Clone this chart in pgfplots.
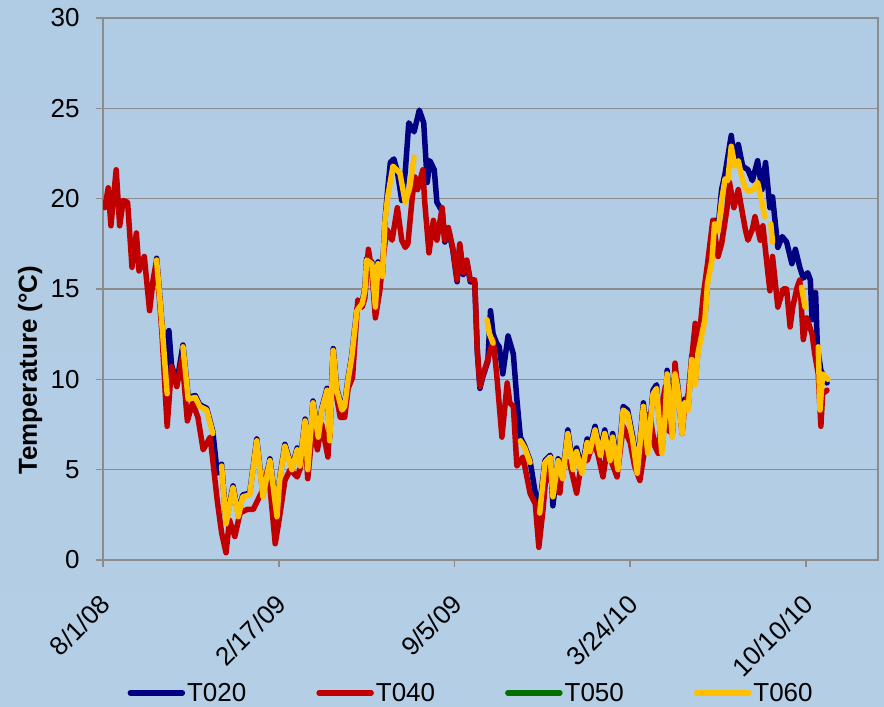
\documentclass[border=0pt]{standalone}
\usepackage{pgfplots}
\pgfplotsset{compat=1.18}
\usepackage{fontspec}
\setmainfont{Liberation Sans}
\definecolor{tA}{RGB}{0,0,128}
\definecolor{tB}{RGB}{192,0,0}
\definecolor{tC}{RGB}{0,112,0}
\definecolor{tD}{RGB}{255,192,0}
\definecolor{gridc}{RGB}{140,140,140}
\definecolor{bgtop}{RGB}{176,203,228}
\definecolor{bgmid}{RGB}{188,212,234}
\definecolor{bgbot}{RGB}{180,206,229}
\begin{document}
\begin{tikzpicture}
\shade[top color=bgtop, middle color=bgmid, bottom color=bgbot] (0pt,0pt) rectangle (884pt,707pt);
\begin{axis}[
  at={(103pt,147pt)}, anchor=south west,
  width=775pt, height=542pt, scale only axis,
  xmin=0, xmax=882, ymin=0, ymax=30,
  xtick={0,200,400,600,800},
  xticklabels={8/1/08,2/17/09,9/5/09,3/24/10,10/10/10},
  ytick={0,5,10,15,20,25,30},
  ymajorgrids, grid style={gridc, line width=1.6pt},
  axis line style={gridc, line width=1.6pt},
  tick style={gridc, line width=1.6pt},
  tick align=outside, major tick length=7pt,
  xtick pos=bottom, ytick pos=left,
  /pgf/number format/assume math mode=true,
  tick label style={font=\fontsize{26}{30}\selectfont},
  xticklabel style={rotate=45, anchor=east, xshift=-18pt, yshift=-25pt},
  yticklabel style={xshift=-13pt},
  ylabel={Temperature (°C)},
  every axis y label/.style={at={(axis description cs:-0.094,0.35)}, rotate=90, anchor=center,
    font=\fontsize{26}{30}\selectfont\bfseries},
  unbounded coords=jump,
  legend columns=4,
  legend style={at={(0.475,-0.245)}, anchor=center, draw=none, fill=none,
    font=\fontsize{26}{30}\selectfont,
    /tikz/every even column/.append style={column sep=68pt}},
  legend image code/.code={\draw[#1, line cap=round] (0pt,0pt) -- (52pt,0pt);},
  every axis plot/.append style={line width=5.5pt, line join=round, line cap=round},
]
% T020
\addplot[tA] coordinates {
(61,16.7)(67,13.2)(73,9.4)(75,12.7)(78,10.8)(84,9.8)(91,11.9)(97,9.0)(105,9.1)(110,8.6)
(118,8.4)(125,7.1)(130,4.8)(135,5.3)(140,2.1)(148,4.1)(154,2.5)(159,3.6)(167,3.7)(175,6.7)
(182,3.6)(190,5.6)(198,2.5)(201,4.5)(207,6.4)(215,5.1)(221,6.2)(224,5.3)(230,7.8)(233,5.1)
(239,8.8)(245,6.9)(249,8.4)(255,9.5)(258,6.7)(262,11.7)(266,9.5)(272,8.4)(275,8.6)(279,10.1)
(283,11.3)(289,13.9)(295,14.3)(298,15.0)(300,16.7)(306,16.5)(310,14.1)(313,16.5)(318,15.8)
(321,18.9)(324,20.5)(327,22.0)(331,22.2)(335,21.5)(340,19.9)(344,21.5)(348,24.2)(354,23.7)
(360,24.9)(365,24.2)(369,20.9)(372,22.1)(377,21.6)(380,19.8)(386,19.3)(389,17.6)(393,18.3)
(398,17.2)(403,15.4)(406,17.4)(410,15.8)(414,16.5)(418,15.4)(423,15.4)(426,11.5)(429,9.5)
(432,10.1)(438,11.0)(441,13.8)(444,12.5)(448,12.0)(451,11.8)(455,10.3)(461,12.4)(467,11.4)
(471,8.9)(475,6.8)(480,6.3)(486,5.5)(492,3.7)(497,3.0)(503,5.5)(509,5.8)(512,3.0)(518,5.6)
(523,4.6)(529,7.2)(535,5.2)(539,6.2)(545,5.0)(551,6.7)(554,6.2)(560,7.4)(566,6.0)(571,7.2)
(577,5.7)(580,7.0)(586,5.2)(592,8.5)(597,8.3)(603,6.8)(608,5.0)(615,8.7)(620,6.1)(626,9.4)
(630,9.7)(636,6.1)(640,8.3)(642,10.5)(648,7.0)(651,10.5)(654,9.7)(659,7.2)(662,8.9)(666,8.5)
(670,11.3)(674,9.9)(677,11.6)(682,12.8)(685,13.5)(688,15.5)(693,16.8)(696,18.8)(700,18.4)
(704,20.5)(708,21.4)(715,23.5)(719,22.0)(723,23.0)(728,21.8)(734,21.6)(739,21.0)(745,22.1)
(750,20.5)(754,22.0)(759,19.5)(762,20.1)(768,17.3)(773,17.9)(778,17.6)(784,16.4)(788,17.2)
(793,16.2)(797,15.6)(802,15.9)(805,15.5)(807,13.3)(811,14.8)(813,11.8)(817,10.5)(824,9.8)
};
\addlegendentry{T020}
% T040
\addplot[tB] coordinates {
(2,19.5)(6,20.6)(9,18.5)(15,21.6)(19,18.5)(23,19.9)(28,19.8)(33,16.2)(38,18.1)(41,16.0)
(47,16.8)(53,13.8)(57,15.5)(61,16.6)(67,12.6)(73,7.4)(78,10.7)(84,9.6)(90,11.2)(96,7.7)
(102,8.7)(108,7.9)(114,6.1)(122,6.8)(130,3.3)(135,1.5)(140,0.4)(144,2.2)(150,1.3)(156,2.6)
(164,2.8)(171,2.8)(176,3.3)(182,3.9)(188,5.1)(196,0.9)(201,2.4)(207,4.4)(213,5.0)(221,4.6)
(224,5.0)(230,7.0)(233,4.5)(239,7.5)(244,6.1)(249,7.5)(256,5.7)(262,11.4)(266,9.0)(270,7.9)
(275,7.9)(279,9.5)(284,10.1)(290,14.4)(295,14.0)(298,14.5)(302,17.2)(306,16.0)(310,13.4)
(315,14.9)(319,16.8)(323,18.3)(329,17.7)(335,19.5)(340,17.7)(344,17.3)(347,17.5)(352,20.1)
(355,21.2)(358,20.5)(364,21.6)(366,19.9)(371,17.0)(376,18.8)(380,17.7)(386,19.5)(389,17.7)
(393,18.4)(398,17.3)(403,15.5)(406,17.5)(410,15.9)(414,16.6)(418,15.5)(423,15.5)(426,11.6)
(429,9.6)(432,10.2)(438,11.1)(444,12.2)(448,10.3)(454,6.8)(460,9.8)(463,8.7)(467,8.5)
(471,5.2)(478,5.7)(486,3.7)(492,3.1)(496,0.7)(501,2.9)(505,5.2)(512,4.0)(520,3.7)(523,5.5)
(531,5.4)(539,3.7)(545,5.5)(551,5.5)(558,6.5)(563,5.9)(569,4.6)(575,6.5)(579,5.4)(585,4.6)
(592,7.4)(600,6.5)(605,5.2)(611,4.4)(617,6.3)(622,8.1)(628,6.3)(632,5.9)(636,8.5)(640,9.6)
(643,7.2)(648,7.0)(651,10.9)(659,7.0)(662,8.5)(666,9.2)(674,13.1)(677,11.5)(683,14.6)
(688,16.4)(694,18.8)(700,16.8)(704,17.5)(710,19.4)(713,20.9)(718,19.5)(723,20.5)(727,19.4)
(731,18.3)(734,17.7)(739,18.3)(742,19.0)(748,17.7)(751,18.5)(756,16.2)(759,14.9)(762,16.8)
(768,14.0)(774,15.0)(778,15.0)(782,12.9)(785,14.0)(790,15.1)(793,15.5)(797,12.2)(801,13.4)
(807,12.5)(810,11.4)(814,10.3)(817,7.4)(819,9.2)(824,9.4)
};
\addlegendentry{T040}
\addlegendimage{tC, line width=5.5pt}
\addlegendentry{T050}
% T060
\addplot[tD] coordinates {
(61,16.6)(67,13.1)(73,9.2)(74,nan)
(91,11.8)(97,8.9)(105,9.0)(110,8.5)(118,8.3)(125,7.0)(126,nan)
(135,5.2)(140,2.0)(148,4.0)(154,2.4)(159,3.5)(167,3.6)(175,6.6)(182,3.5)(190,5.5)(198,2.4)
(201,4.4)(207,6.3)(215,5.0)(221,6.1)(224,5.2)(230,7.7)(233,5.0)(239,8.7)(245,6.8)(249,8.3)
(255,9.4)(258,6.6)(262,11.6)(266,9.4)(272,8.3)(275,8.5)(279,10.0)(283,11.2)(289,13.8)
(295,14.2)(298,14.9)(300,16.6)(306,16.4)(310,14.0)(313,16.4)(318,15.7)(321,18.8)(324,20.1)
(330,21.8)(338,21.4)(344,19.8)(349,20.6)(354,22.3)(355,nan)
(437,13.3)(440,12.5)(444,12.0)(445,nan)
(475,6.6)(480,6.2)(486,5.4)(487,nan)
(497,2.6)(503,5.4)(509,5.7)(512,3.5)(518,5.5)(523,4.5)(529,7.0)(535,5.0)(539,6.0)(545,4.8)
(551,6.5)(554,6.0)(560,7.2)(566,5.8)(571,7.0)(577,5.5)(580,6.8)(586,5.0)(592,8.3)(597,8.1)
(603,6.6)(608,4.8)(615,8.5)(620,5.9)(626,9.2)(630,9.5)(636,5.9)(640,8.1)(642,10.3)(648,6.8)
(651,10.3)(654,9.5)(659,7.0)(662,8.7)(666,8.3)(670,11.1)(674,9.7)(677,11.4)(682,12.6)
(685,13.3)(688,15.3)(693,16.6)(696,18.6)(700,18.2)(704,19.9)(708,21.1)(711,21.0)(715,22.9)
(719,21.8)(723,22.1)(727,21.2)(731,20.6)(734,20.4)(740,20.5)(745,20.9)(750,19.8)(753,19.0)(754,nan)
(760,18.6)(762,17.6)(763,nan)
(795,15.1)(799,14.0)(800,nan)
(814,11.8)(816,8.3)(819,10.3)(825,10.0)
};
\addlegendentry{T060}
\end{axis}
\pgfresetboundingbox
\path[use as bounding box] (0pt,0pt) rectangle (884pt,707pt);
\end{tikzpicture}
\end{document}
